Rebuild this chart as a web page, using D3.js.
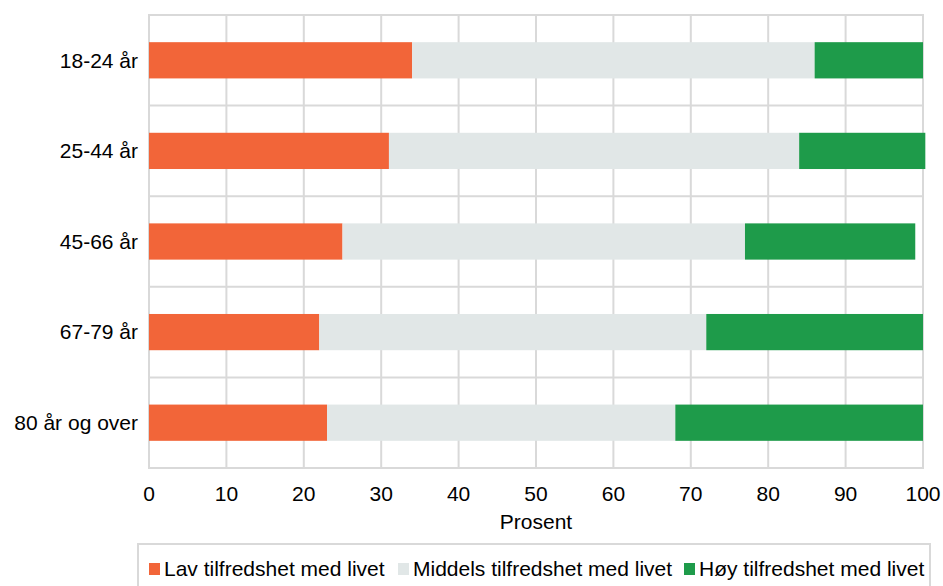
<!DOCTYPE html>
<meta charset="utf-8">
<body style="margin:0;background:#fff">
<script src="https://d3js.org/d3.v7.min.js"></script>
<svg></svg>
<script>
    var width = 943;
    var height = 586;

    // data
    var groups = ["18-24 år", "25-44 år", "45-66 år", "67-79 år", "80 år og over"];
    var lav = [34, 31, 25, 22, 23];
    var middels = [52, 53, 52, 50, 45];
    var hoy = [14, 16.3, 22, 28, 32];
    var seriesNames = ["Lav tilfredshet med livet", "Middels tilfredshet med livet", "Høy tilfredshet med livet"];
    var colors = ["#f26539", "#e1e7e7", "#1e9b4a"];
    var xTicks = [0, 10, 20, 30, 40, 50, 60, 70, 80, 90, 100];

    var fontSize = "21px";

    var svg = d3.select("svg")
        .attr("width", width)
        .attr("height", height)
        .style("font-family", "Arial, 'Liberation Sans', sans-serif");

    var x = d3.scaleLinear().domain([0, 100]).range([149, 923]);
    var y = d3.scaleBand().domain(groups).range([15, 468]).paddingInner(0.6).paddingOuter(0.3);

    var rows = groups.map(function(g, i) {
        return {group: g, lav: lav[i], middels: middels[i], hoy: hoy[i]};
    });
    var stack = d3.stack().keys(["lav", "middels", "hoy"]);
    var layers = stack(rows);

    // grid: vertical lines at ticks, horizontal lines between categories
    var plotTop = y.range()[0], plotBottom = y.range()[1];
    svg.append("g").selectAll("line")
        .data(xTicks)
        .enter().append("line")
        .attr("x1", function(d) { return x(d); })
        .attr("x2", function(d) { return x(d); })
        .attr("y1", plotTop).attr("y2", plotBottom)
        .attr("stroke", "#d9d9d9").attr("stroke-width", 2);

    var bandEdges = d3.range(groups.length + 1).map(function(i) {
        return plotTop + i * (plotBottom - plotTop) / groups.length;
    });
    svg.append("g").selectAll("line")
        .data(bandEdges)
        .enter().append("line")
        .attr("x1", x(0) - 1).attr("x2", x(100) + 1)
        .attr("y1", function(d) { return d; })
        .attr("y2", function(d) { return d; })
        .attr("stroke", "#d9d9d9").attr("stroke-width", 2);

    // bars
    svg.append("g").selectAll("g")
        .data(layers)
        .enter().append("g")
        .attr("fill", function(d, i) { return colors[i]; })
        .selectAll("rect")
        .data(function(d) { return d; })
        .enter().append("rect")
        .attr("x", function(d) { return x(d[0]); })
        .attr("width", function(d) { return x(d[1]) - x(d[0]); })
        .attr("y", function(d) { return y(d.data.group); })
        .attr("height", y.bandwidth());

    // x axis labels
    svg.append("g").selectAll("text")
        .data(xTicks)
        .enter().append("text")
        .attr("x", function(d) { return x(d); })
        .attr("y", 501)
        .attr("text-anchor", "middle")
        .style("font-size", fontSize)
        .style("fill", "#000")
        .text(function(d) { return d; });

    svg.append("text")
        .attr("x", x(50))
        .attr("y", 529)
        .attr("text-anchor", "middle")
        .style("font-size", fontSize)
        .text("Prosent");

    // y axis labels
    svg.append("g").selectAll("text")
        .data(groups)
        .enter().append("text")
        .attr("x", 138)
        .attr("y", function(d) { return y(d) + y.bandwidth() / 2; })
        .attr("dy", "0.35em")
        .attr("text-anchor", "end")
        .style("font-size", fontSize)
        .text(function(d) { return d; });

    // legend
    svg.append("rect")
        .attr("x", 138).attr("y", 544)
        .attr("width", 792).attr("height", 50)
        .attr("fill", "none")
        .attr("stroke", "#d9d9d9").attr("stroke-width", 2);

    var legendX = [149, 398, 684];
    var legend = svg.append("g").selectAll("g")
        .data(seriesNames)
        .enter().append("g")
        .attr("transform", function(d, i) { return "translate(" + legendX[i] + ",569)"; });
    legend.append("rect")
        .attr("x", 0).attr("y", -6)
        .attr("width", 11).attr("height", 12)
        .attr("fill", function(d, i) { return colors[i]; });
    legend.append("text")
        .attr("x", 15)
        .attr("dy", "0.35em")
        .style("font-size", fontSize)
        .text(function(d) { return d; });
</script>
